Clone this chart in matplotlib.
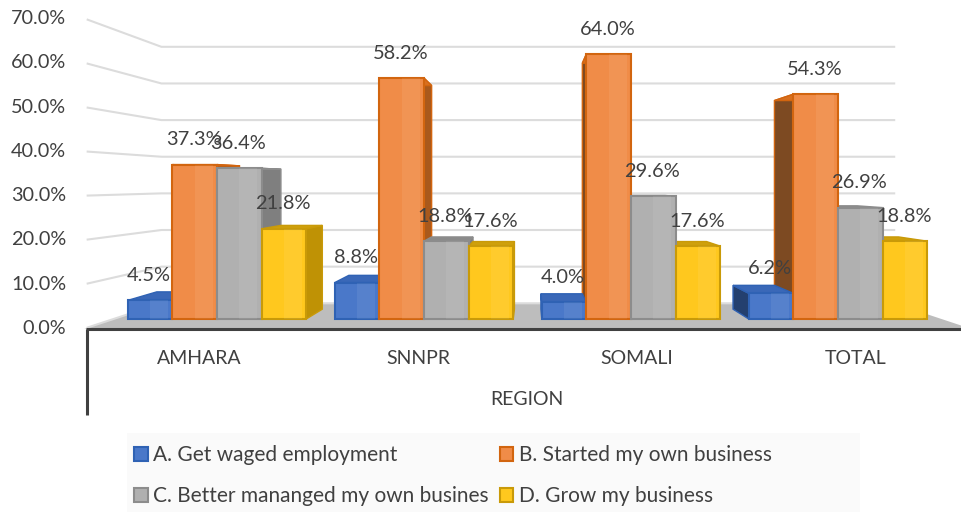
import matplotlib
matplotlib.use('Agg')
import matplotlib.pyplot as plt
from matplotlib.patches import Polygon, Patch, Rectangle

regions = ['AMHARA', 'SNNPR', 'SOMALI', 'TOTAL']
series_names = ['A. Get waged employment', 'B. Started my own business',
                'C. Better mananged my own busines', 'D. Grow my business']
get_waged = [4.5, 8.8, 4.0, 6.2]
started_own = [37.3, 58.2, 64.0, 54.3]
better_managed = [36.4, 18.8, 29.6, 26.9]
grow_business = [21.8, 17.6, 17.6, 18.8]
y_ticks = [0, 10, 20, 30, 40, 50, 60, 70]
x_title = 'REGION'

series = [get_waged, started_own, better_managed, grow_business]
front_cols = ['#4a78c9', '#f08c48', '#b0b0b0', '#ffc81e']
edge_cols = ['#2f62b4', '#d2650f', '#8c8c8c', '#c99a08']
side_cols = ['#2f5597', '#a9591c', '#7f7f7f', '#bf9205']
side_cols_left = ['#24406f', '#7d4a22', '#6f6f6f', '#9c7804']
top_cols = ['#3a68b8', '#d9701f', '#8a8a8a', '#cfa00c']
text_col = '#404040'

plt.rcParams['font.family'] = ['Lato', 'DejaVu Sans']

fig = plt.figure(figsize=(9.61, 5.12), dpi=100, facecolor='white')
ax = fig.add_axes([0, 0, 1, 1])
# pixel 217 = first group, 207 px per group, baseline at 319 px, 4.14 px per %
ax.set_xlim(-217 / 207, (961 - 217) / 207)
ax.set_ylim((319 - 512) / 4.14, 319 / 4.14)
ax.axis('off')

# vanishing point and depths of the fake 3D box
vp_x, vp_y = 1.512, 33.0
d_front, d_wall, d_bar = -0.07, 0.115, 0.072
d_label = -0.057
d_grid_start = -0.062
x_left, x_right = -0.5, 3.5
bar_w = 0.2155


def proj(x, y, d):
    return x + d * (vp_x - x), y + d * (vp_y - y)


def face(pts, **kw):
    ax.add_patch(Polygon(pts, closed=True, **kw))


# floor
face([proj(x_left, 0, d_front), proj(x_right, 0, d_front),
      proj(x_right, 0, d_wall), proj(x_left, 0, d_wall)],
     facecolor='#bdbdbd', edgecolor='none', zorder=1)

# gridlines on left wall and back wall
for v in y_ticks:
    a = proj(x_left, v, d_grid_start)
    b = proj(x_left, v, d_wall)
    c = proj(x_right, v, d_wall)
    ax.plot([a[0], b[0], c[0]], [a[1], b[1], c[1]], color='#dcdcdc', lw=1.5, zorder=1.5)
    ax.annotate(f'{v:.1f}%', xy=proj(x_left, v, d_front), xytext=(-13, 0), textcoords='offset points',
                ha='right', va='center', color=text_col, fontsize=14.3)

# sides first, then tops, then fronts so the bars overlap as in the chart
for i in range(len(regions)):
    for j, vals in enumerate(series):
        left = i + (j - 2) * bar_w
        right = left + bar_w
        h = vals[i]
        if right < vp_x:
            face([proj(right, 0, 0), proj(right, h, 0), proj(right, h, d_bar), proj(right, 0, d_bar)],
                 facecolor=side_cols[j], edgecolor=edge_cols[j], lw=1, zorder=2)
        elif left > vp_x:
            face([proj(left, 0, 0), proj(left, h, 0), proj(left, h, d_bar), proj(left, 0, d_bar)],
                 facecolor=side_cols_left[j], edgecolor=edge_cols[j], lw=1, zorder=2)

for i in range(len(regions)):
    for j, vals in enumerate(series):
        left = i + (j - 2) * bar_w
        right = left + bar_w
        h = vals[i]
        face([proj(left, h, 0), proj(right, h, 0), proj(right, h, d_bar), proj(left, h, d_bar)],
             facecolor=top_cols[j], edgecolor=edge_cols[j], lw=1, zorder=3)

for i in range(len(regions)):
    for j, vals in enumerate(series):
        left = i + (j - 2) * bar_w
        h = vals[i]
        ax.bar(left, h, width=bar_w, align='edge', color=front_cols[j],
               edgecolor=edge_cols[j], linewidth=1.5, zorder=4)
        # lighter strip inside the front face
        ax.bar(left + bar_w * 0.5, h, width=bar_w * 0.4, align='edge', color='white',
               alpha=0.07, linewidth=0, zorder=4.1)
        ax.annotate(f'{h:.1f}%', xy=(left + bar_w / 2, h), xytext=(-0.7, 18),
                    textcoords='offset points', ha='center', va='center',
                    color=text_col, fontsize=14.4, zorder=6)

# front axis lines
p0 = proj(x_left, 0, d_front)
p1 = proj(x_right, 0, d_front)
ax.plot([p0[0] + 0.01, p1[0]], [p0[1], p1[1]], color='#404040', lw=2.2, zorder=5, solid_capstyle='butt')
ax.plot([p0[0] + 0.015, p0[0] + 0.015], [p0[1], -23.2], color='#404040', lw=2.2, zorder=5, solid_capstyle='butt')

for i, name in enumerate(regions):
    ax.annotate(name, xy=proj(i, 0, d_label), xytext=(0, -22.5), textcoords='offset points',
                ha='center', va='center', color=text_col, fontsize=14)
ax.annotate(x_title, xy=proj(1.5, 0, d_label), xytext=(0, -52.5), textcoords='offset points',
            ha='center', va='center', color=text_col, fontsize=14)

# legend background is its own rectangle, the legend itself sits on top without a frame
fig.add_artist(Rectangle((127 / 961, 0), (860 - 127) / 961, (512 - 433) / 512,
                         transform=fig.transFigure, facecolor='#fafafa', edgecolor='none', zorder=0.5))
handles = [Patch(facecolor=front_cols[j], edgecolor=edge_cols[j], lw=1.5) for j in [0, 2, 1, 3]]
labels = [series_names[j] for j in [0, 2, 1, 3]]
leg = fig.legend(handles, labels, loc='upper left', bbox_to_anchor=(134 / 961, 1 - 445 / 512),
                 bbox_transform=fig.transFigure, ncol=2, frameon=False, borderaxespad=0,
                 handlelength=0.65, handleheight=0.65, handletextpad=0.25, labelspacing=1.02,
                 columnspacing=0.55, borderpad=0, labelcolor=text_col, fontsize=15)

fig.savefig('out.png', dpi=100, facecolor='white')
